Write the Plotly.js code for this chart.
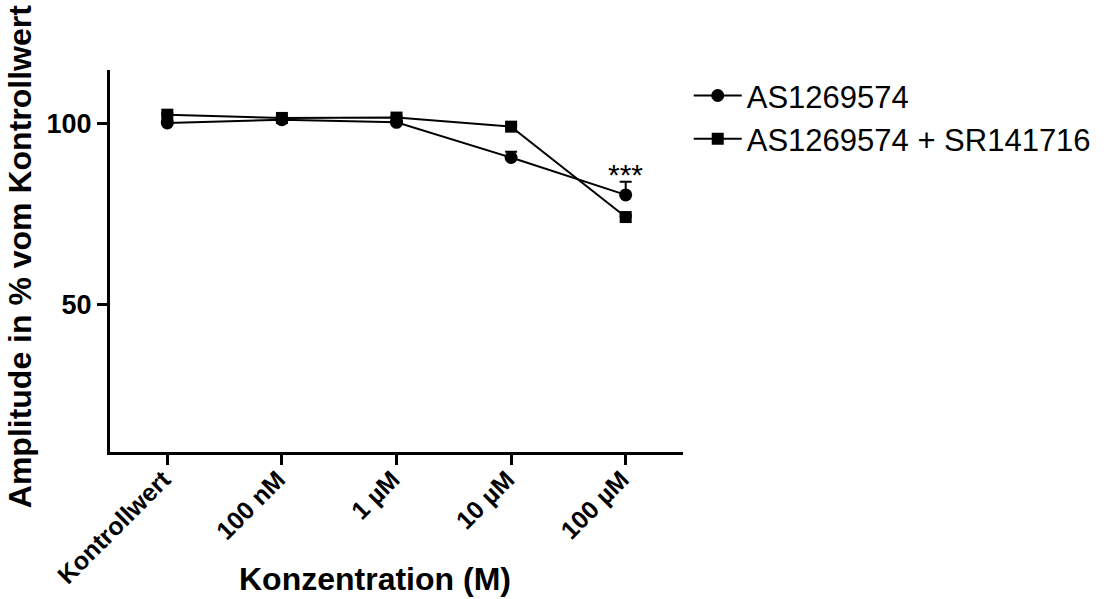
<!DOCTYPE html>
<html><head><meta charset="utf-8">
<script src="https://cdn.plot.ly/plotly-3.0.1.min.js"></script>
<style>body{margin:0;background:#fff}#c{width:1108px;height:599px}</style>
</head><body><div id="c"></div>
<script>
const categories = ["Kontrollwert", "100 nM", "1 \u00b5M", "10 \u00b5M", "100 \u00b5M"];
const seriesNames = ["AS1269574", "AS1269574 + SR141716"];
const asValues = [100.1, 101.0, 100.3, 90.6, 80.3];
const asErrors = [0.6, 0.5, 0.5, 1.6, 3.6];
const asSrValues = [102.4, 101.5, 101.6, 99.1, 74.2];
const asSrErrors = [0.4, 0.3, 0.4, 0.5, 0.6];
const yTicks = [50, 100];
const sigLabel = "***";

const F = "Liberation Sans, Arial, sans-serif";
const traces = [
  {x: categories, y: asValues, name: seriesNames[0], type: "scatter", mode: "lines+markers",
   line: {color: "#000", width: 2}, marker: {symbol: "circle", size: 13, color: "#000"},
   error_y: {type: "data", array: asErrors, arrayminus: asErrors.map(() => 0), color: "#000", thickness: 2, width: 6}},
  {x: categories, y: asSrValues, name: seriesNames[1], type: "scatter", mode: "lines+markers",
   line: {color: "#000", width: 2}, marker: {symbol: "square", size: 12, color: "#000"},
   error_y: {type: "data", array: asSrErrors, arrayminus: asSrErrors.map(() => 0), color: "#000", thickness: 2, width: 6}}
];
const layout = {
  width: 1108, height: 599,
  margin: {l: 110, r: 421, t: 70, b: 147},
  paper_bgcolor: "#fff", plot_bgcolor: "#fff",
  showlegend: true,
  legend: {x: 1.01, y: 1.003, xanchor: "left", yanchor: "top", font: {family: F, size: 31, color: "#000"},
           bgcolor: "rgba(0,0,0,0)", itemwidth: 48, tracegroupgap: 0},
  xaxis: {type: "category", range: [-0.5, 4.5], showline: true, linecolor: "#000", linewidth: 3,
          ticks: "outside", ticklen: 10, tickwidth: 3, tickcolor: "#000", showgrid: false, zeroline: false,
          tickangle: -45, ticklabelstandoff: -10, ticklabelshift: -4,
          tickfont: {family: F, size: 25, color: "#000", weight: "bold"}},
  yaxis: {range: [9.5, 114.7], showline: true, linecolor: "#000", linewidth: 3,
          ticks: "outside", ticklen: 10, tickwidth: 3, tickcolor: "#000", showgrid: false, zeroline: false,
          tickvals: yTicks, ticktext: yTicks.map(String),
          tickfont: {family: F, size: 27, color: "#000", weight: "bold"}},
  annotations: [
    {text: sigLabel, x: categories[4], y: asValues[4] + asErrors[4], xref: "x", yref: "y",
     yanchor: "middle", yshift: 7, showarrow: false, font: {family: F, size: 30, color: "#000"}},
    {text: "Amplitude in % vom Kontrollwert", xref: "paper", yref: "paper", x: -0.157, y: 0.51,
     xanchor: "center", yanchor: "middle",
     textangle: -90, showarrow: false, font: {family: F, size: 32, color: "#000", weight: "bold"}},
    {text: "Konzentration (M)", xref: "paper", yref: "paper", x: 0.463, y: -0.332,
     xanchor: "center", yanchor: "middle",
     showarrow: false, font: {family: F, size: 32, color: "#000", weight: "bold"}}
  ]
};
Plotly.newPlot("c", traces, layout, {displayModeBar: false});
</script></body></html>
